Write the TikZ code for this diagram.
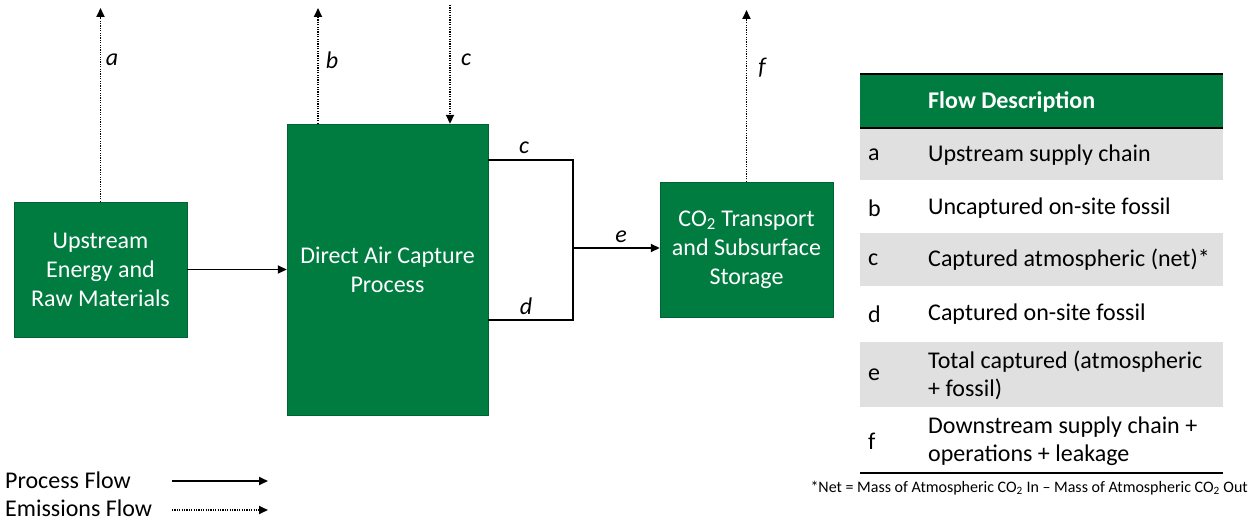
\documentclass[tikz,border=0pt]{standalone}
\usepackage{fontspec}
\setmainfont{Carlito}
\usetikzlibrary{arrows.meta}
\definecolor{dacgreen}{RGB}{0,124,65}
\definecolor{rowgray}{RGB}{224,224,224}
\begin{document}
\begin{tikzpicture}[x=1pt,y=-1pt,
  box/.style={rectangle, inner sep=0pt, fill=dacgreen, draw=dacgreen!80!black, line width=0.4pt, text=white, align=center, font=\fontsize{24}{29}\selectfont},
  proc/.style={line width=1.8pt, -{Triangle[length=9pt,width=8pt]}},
  emis/.style={line width=1.8pt, dash pattern=on 1.2pt off 1.2pt, -{Triangle[length=9pt,width=8pt]}},
  flowlbl/.style={font=\fontsize{24}{26}\selectfont\itshape, inner sep=1pt},
  tabtxt/.style={anchor=west, align=left, inner sep=0pt, font=\fontsize{24}{28}\selectfont},
  rule/.style={line width=2.6pt}]
\useasboundingbox (0,0) rectangle (1259,524);

% process boxes
\node[box, minimum width=173pt, minimum height=135pt] (up) at (100.5,269.5) {Upstream\\Energy and\\Raw Materials};
\node[box, minimum width=201pt, minimum height=291pt] (dac) at (387.5,269.5) {Direct Air Capture\\Process};
\node[box, minimum width=173pt, minimum height=135pt] (store) at (746.5,249.5) {CO\textsubscript{2} Transport\\and Subsurface\\Storage};

% emissions flows
\coordinate (atop) at (100.5,8);
\coordinate (btop) at (318,8);
\coordinate (ctop) at (450,5);
\coordinate (ftop) at (746.5,10);
\draw[emis] (up.north) -- (atop);
\draw[emis] (btop |- dac.north) -- (btop);
\draw[emis] (ctop) -- (ctop |- dac.north);
\draw[emis] (store.north) -- (ftop);
\node[flowlbl] (la) at (112,60) {a};
\node[flowlbl] (lb) at (332,60) {b};
\node[flowlbl] (lc) at (466,60) {c};
\node[flowlbl] (lf) at (762,68) {f};

% process flows
\draw[proc] (up.east) -- (dac.west);
\coordinate (cout) at (488,160);
\coordinate (dout) at (488,320);
\coordinate (j) at (573,248);
\draw[line width=1.8pt] (cout) -| (j) |- (dout);
\draw[proc] (j) -- (j -| store.west);
\node[flowlbl] (lc2) at (524,148) {c};
\node[flowlbl] (ld) at (526,306) {d};
\node[flowlbl] (le) at (621,237) {e};

% table
\fill[dacgreen] (860,74) rectangle (1223,128);
\fill[rowgray] (860,128) rectangle (1223,180);
\fill[rowgray] (860,233) rectangle (1223,286);
\fill[rowgray] (860,342) rectangle (1223,407);
\draw[rule] (860,74) -- (1223,74);
\draw[line width=2pt] (860,128) -- (1223,128);
\draw[rule] (860,473) -- (1223,473);
\node[tabtxt, text=white, font=\fontsize{24}{28}\selectfont\bfseries] (hd) at (928,102) {Flow Description};
\node[tabtxt] (ka) at (868,155) {a};
\node[tabtxt] (ta) at (928,155) {Upstream supply chain};
\node[tabtxt] (kb) at (868,208) {b};
\node[tabtxt] (tb) at (928,208) {Uncaptured on-site fossil};
\node[tabtxt] (kc) at (868,260) {c};
\node[tabtxt] (tc) at (928,260) {Captured atmospheric (net)*};
\node[tabtxt] (kd) at (868,314) {d};
\node[tabtxt] (td) at (928,314) {Captured on-site fossil};
\node[tabtxt] (ke) at (868,375) {e};
\node[tabtxt] (te) at (928,375) {Total captured (atmospheric\\+ fossil)};
\node[tabtxt] (kf) at (868,441) {f};
\node[tabtxt] (tf) at (928,441) {Downstream supply chain +\\operations + leakage};
\node[anchor=east, inner sep=0pt, font=\fontsize{16}{18}\selectfont] (fn) at (1248,488) {*Net = Mass of Atmospheric CO\textsubscript{2} In -- Mass of Atmospheric CO\textsubscript{2} Out};

% legend
\node[tabtxt] (pf) at (5,480) {Process Flow};
\node[tabtxt] (ef) at (5,508) {Emissions Flow};
\coordinate (pfa) at (172,481);
\coordinate (pfb) at (268,481);
\coordinate (efa) at (172,510);
\coordinate (efb) at (268,510);
\draw[proc] (pfa) -- (pfb);
\draw[emis] (efa) -- (efb);
\end{tikzpicture}
\end{document}
